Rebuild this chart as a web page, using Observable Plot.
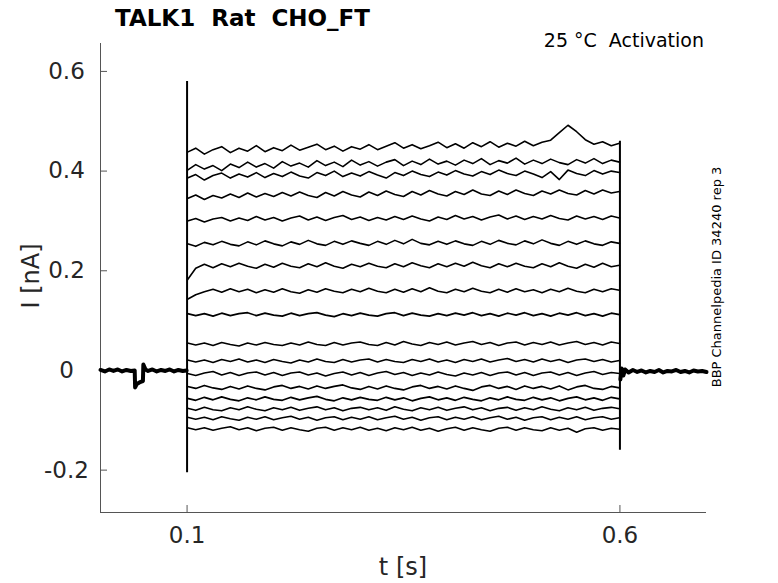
<!DOCTYPE html>
<html>
<head>
<meta charset="utf-8">
<script src="https://cdn.jsdelivr.net/npm/d3@7"></script>
<script src="https://cdn.jsdelivr.net/npm/@observablehq/plot@0.6"></script>
<style>
  html, body { margin: 0; padding: 0; background: #fff; }
</style>
</head>
<body>
<div id="chart"></div>
<script>
// ---- axis / text data ----
const xDomain = [0, 0.7];
const yDomain = [-0.285, 0.656];
const xTicks = [0.1, 0.6];
const xTickLabels = ["0.1", "0.6"];
const yTicks = [-0.2, 0, 0.2, 0.4, 0.6];
const yTickLabels = ["-0.2", "0", "0.2", "0.4", "0.6"];
const titleText = "TALK1  Rat  CHO_FT";
const conditionText = "25 \u00B0C  Activation";
const sideText = "BBP Channelpedia ID 34240 rep 3";
const xLabel = "t [s]";
const yLabel = "I [nA]";

// ---- sample times of the step traces (s) ----
const tTrace = [0.1005,0.11,0.12,0.13,0.14,0.15,0.16,0.17,0.18,0.19,
  0.20,0.21,0.22,0.23,0.24,0.25,0.26,0.27,0.28,0.29,
  0.30,0.31,0.32,0.33,0.34,0.35,0.36,0.37,0.38,0.39,
  0.40,0.41,0.42,0.43,0.44,0.45,0.46,0.47,0.48,0.49,
  0.50,0.51,0.52,0.53,0.54,0.55,0.56,0.57,0.58,0.59,0.5995];

// ---- current traces during the step (nA) ----
const trace1 = [0.438,0.446,0.434,0.443,0.449,0.437,0.446,0.440,0.451,0.439,
  0.447,0.441,0.452,0.442,0.448,0.454,0.443,0.450,0.440,0.449,
  0.444,0.453,0.443,0.450,0.457,0.446,0.453,0.445,0.451,0.458,
  0.447,0.455,0.446,0.457,0.449,0.459,0.448,0.456,0.450,0.460,
  0.451,0.458,0.462,0.477,0.492,0.479,0.463,0.454,0.459,0.451,0.456];
const trace2 = [0.402,0.413,0.404,0.411,0.401,0.414,0.407,0.418,0.408,0.415,
  0.406,0.419,0.410,0.416,0.408,0.421,0.411,0.418,0.409,0.422,
  0.412,0.419,0.410,0.418,0.423,0.411,0.420,0.413,0.424,0.414,
  0.420,0.412,0.422,0.415,0.425,0.413,0.421,0.416,0.426,0.414,
  0.422,0.415,0.424,0.417,0.413,0.423,0.416,0.425,0.415,0.422,0.418];
const trace3 = [0.386,0.393,0.382,0.391,0.396,0.386,0.394,0.388,0.397,0.387,
  0.395,0.389,0.398,0.390,0.386,0.397,0.391,0.400,0.389,0.396,
  0.390,0.399,0.392,0.386,0.397,0.391,0.400,0.393,0.389,0.398,
  0.392,0.401,0.394,0.390,0.399,0.393,0.402,0.395,0.391,0.400,
  0.394,0.387,0.399,0.383,0.402,0.395,0.391,0.401,0.394,0.400,0.397];
const trace4 = [0.345,0.352,0.343,0.351,0.346,0.354,0.347,0.356,0.348,0.355,
  0.349,0.357,0.350,0.358,0.351,0.347,0.357,0.350,0.359,0.352,
  0.348,0.358,0.351,0.360,0.353,0.349,0.359,0.352,0.361,0.354,
  0.350,0.359,0.353,0.362,0.354,0.351,0.360,0.353,0.362,0.355,
  0.351,0.360,0.354,0.362,0.355,0.352,0.361,0.354,0.362,0.356,0.359];
const trace5 = [0.300,0.305,0.298,0.304,0.307,0.300,0.306,0.301,0.309,0.302,
  0.307,0.300,0.306,0.310,0.302,0.308,0.301,0.307,0.311,0.303,
  0.308,0.301,0.307,0.302,0.309,0.303,0.310,0.304,0.300,0.308,
  0.303,0.311,0.304,0.309,0.302,0.308,0.312,0.304,0.310,0.303,
  0.309,0.304,0.311,0.305,0.302,0.310,0.304,0.309,0.303,0.310,0.306];
const trace6 = [0.254,0.249,0.257,0.252,0.259,0.253,0.250,0.258,0.252,0.260,
  0.254,0.250,0.258,0.253,0.261,0.254,0.251,0.259,0.253,0.260,
  0.255,0.251,0.259,0.253,0.261,0.254,0.263,0.255,0.252,0.259,
  0.253,0.260,0.254,0.251,0.259,0.253,0.261,0.255,0.252,0.260,
  0.254,0.262,0.255,0.251,0.259,0.253,0.260,0.254,0.251,0.258,0.255];
const trace7 = [0.182,0.205,0.213,0.206,0.214,0.208,0.215,0.209,0.205,0.213,
  0.207,0.215,0.209,0.206,0.214,0.208,0.216,0.209,0.205,0.213,
  0.208,0.215,0.209,0.206,0.214,0.208,0.216,0.210,0.206,0.214,
  0.208,0.215,0.209,0.217,0.210,0.206,0.214,0.208,0.215,0.209,
  0.206,0.214,0.208,0.216,0.209,0.205,0.213,0.207,0.215,0.208,0.211];
const trace8 = [0.143,0.152,0.158,0.163,0.157,0.164,0.158,0.163,0.156,0.162,
  0.157,0.164,0.158,0.155,0.162,0.157,0.164,0.159,0.156,0.163,
  0.158,0.165,0.159,0.156,0.163,0.157,0.164,0.158,0.166,0.159,
  0.156,0.163,0.158,0.165,0.159,0.156,0.163,0.157,0.164,0.158,
  0.162,0.156,0.163,0.158,0.165,0.159,0.156,0.163,0.158,0.164,0.161];
const trace9 = [0.114,0.110,0.114,0.109,0.115,0.110,0.114,0.116,0.110,0.115,
  0.111,0.109,0.115,0.110,0.114,0.116,0.111,0.108,0.114,0.110,
  0.115,0.111,0.109,0.114,0.116,0.110,0.115,0.111,0.109,0.114,
  0.110,0.115,0.111,0.116,0.110,0.114,0.109,0.115,0.111,0.116,
  0.110,0.114,0.109,0.115,0.111,0.116,0.110,0.114,0.109,0.115,0.112];
const trace10 = [0.055,0.051,0.055,0.050,0.056,0.052,0.049,0.055,0.051,0.056,
  0.052,0.050,0.055,0.051,0.057,0.052,0.050,0.056,0.051,0.055,
  0.057,0.052,0.050,0.056,0.051,0.058,0.053,0.050,0.056,0.052,
  0.057,0.051,0.055,0.058,0.052,0.056,0.050,0.055,0.057,0.051,
  0.056,0.052,0.057,0.051,0.055,0.058,0.052,0.056,0.051,0.057,0.054];
const trace11 = [0.021,0.017,0.021,0.016,0.022,0.018,0.023,0.017,0.021,0.016,
  0.022,0.018,0.015,0.021,0.017,0.023,0.018,0.016,0.022,0.017,
  0.021,0.023,0.017,0.022,0.018,0.016,0.022,0.018,0.023,0.017,
  0.021,0.016,0.022,0.018,0.023,0.017,0.021,0.024,0.018,0.022,
  0.017,0.023,0.018,0.022,0.016,0.021,0.023,0.018,0.022,0.017,0.020];
const trace12 = [-0.006,-0.010,-0.005,-0.002,-0.009,-0.004,-0.010,-0.005,-0.003,-0.009,
  -0.004,-0.010,-0.005,-0.003,-0.009,-0.005,-0.011,-0.006,-0.003,-0.009,
  -0.004,-0.010,-0.005,-0.002,-0.008,-0.004,-0.010,-0.005,-0.009,-0.003,
  -0.008,-0.011,-0.005,-0.009,-0.004,-0.010,-0.005,-0.003,-0.009,-0.004,
  -0.010,-0.005,-0.003,-0.009,-0.004,-0.010,-0.005,-0.002,-0.008,-0.004,-0.006];
const trace13 = [-0.032,-0.036,-0.030,-0.035,-0.038,-0.032,-0.037,-0.031,-0.036,-0.039,
  -0.033,-0.030,-0.036,-0.032,-0.037,-0.031,-0.036,-0.032,-0.029,-0.035,
  -0.038,-0.032,-0.037,-0.031,-0.036,-0.039,-0.033,-0.030,-0.036,-0.032,
  -0.037,-0.031,-0.036,-0.040,-0.033,-0.030,-0.036,-0.032,-0.038,-0.031,
  -0.036,-0.032,-0.037,-0.031,-0.039,-0.033,-0.030,-0.036,-0.038,-0.032,-0.035];
const trace14 = [-0.056,-0.060,-0.054,-0.059,-0.053,-0.058,-0.061,-0.055,-0.059,-0.053,
  -0.058,-0.060,-0.054,-0.059,-0.055,-0.052,-0.058,-0.061,-0.055,-0.059,
  -0.054,-0.058,-0.060,-0.054,-0.059,-0.055,-0.061,-0.056,-0.053,-0.059,
  -0.055,-0.060,-0.054,-0.058,-0.061,-0.055,-0.059,-0.053,-0.058,-0.060,
  -0.054,-0.059,-0.055,-0.061,-0.056,-0.053,-0.059,-0.055,-0.060,-0.054,-0.057];
const trace15 = [-0.076,-0.080,-0.074,-0.079,-0.081,-0.075,-0.079,-0.073,-0.078,-0.081,
  -0.075,-0.079,-0.074,-0.080,-0.076,-0.073,-0.079,-0.075,-0.081,-0.076,
  -0.074,-0.079,-0.075,-0.080,-0.073,-0.078,-0.081,-0.075,-0.079,-0.074,
  -0.080,-0.076,-0.073,-0.079,-0.075,-0.081,-0.076,-0.074,-0.080,-0.075,
  -0.079,-0.073,-0.078,-0.081,-0.075,-0.079,-0.074,-0.080,-0.076,-0.074,-0.077];
const trace16 = [-0.094,-0.098,-0.094,-0.099,-0.093,-0.097,-0.100,-0.094,-0.098,-0.093,
  -0.099,-0.095,-0.092,-0.098,-0.094,-0.100,-0.095,-0.093,-0.099,-0.094,
  -0.098,-0.093,-0.099,-0.095,-0.092,-0.098,-0.094,-0.100,-0.095,-0.093,
  -0.099,-0.094,-0.098,-0.093,-0.099,-0.095,-0.092,-0.098,-0.094,-0.100,
  -0.095,-0.093,-0.099,-0.094,-0.098,-0.093,-0.099,-0.095,-0.093,-0.098,-0.095];
const trace17 = [-0.115,-0.119,-0.115,-0.120,-0.116,-0.113,-0.119,-0.115,-0.121,-0.116,
  -0.114,-0.120,-0.115,-0.119,-0.122,-0.116,-0.114,-0.120,-0.115,-0.119,
  -0.114,-0.120,-0.116,-0.121,-0.115,-0.119,-0.114,-0.120,-0.116,-0.122,
  -0.117,-0.114,-0.120,-0.115,-0.119,-0.122,-0.116,-0.114,-0.120,-0.115,
  -0.119,-0.121,-0.115,-0.120,-0.116,-0.124,-0.117,-0.115,-0.120,-0.116,-0.118];

// ---- holding baseline before and after the step ----
const preT = [0,0.005,0.01,0.015,0.02,0.025,0.03,0.035,0.0395,0.0400,0.042,0.045,0.048,0.0490,0.0495,0.052,0.055,0.06,0.065,0.07,0.075,0.08,0.085,0.09,0.095,0.0995];
const preI = [0.001,-0.002,0.002,-0.001,0.002,-0.002,0.001,-0.001,0.000,-0.034,-0.027,-0.024,-0.022,-0.021,0.012,0.002,-0.001,0.002,-0.002,0.001,-0.001,0.002,-0.002,0.001,-0.001,0.000];
const postT = [0.6005,0.602,0.604,0.606,0.61,0.615,0.62,0.625,0.63,0.635,0.64,0.645,0.65,0.655,0.66,0.665,0.67,0.675,0.68,0.685,0.69,0.695,0.7];
const postI = [-0.018,0.004,-0.010,0.002,-0.004,0.001,-0.003,0.000,-0.004,-0.001,-0.003,0.001,-0.004,-0.001,-0.002,0.001,-0.003,-0.001,-0.004,0.000,-0.002,-0.001,-0.003];

// ---- capacitive transients at step on/off ----
const stepT = [0.1, 0.6];
const spikeLo = [-0.205, -0.16];
const spikeHi = [0.58, 0.46];

// ---- build tables ----
const traces = [trace1,trace2,trace3,trace4,trace5,trace6,trace7,trace8,trace9,
  trace10,trace11,trace12,trace13,trace14,trace15,trace16,trace17];
const stepRows = [];
traces.forEach((vals, k) => vals.forEach((v, i) => stepRows.push({trace: k, t: tTrace[i], I: v})));
const baseRows = [];
preT.forEach((t, i) => baseRows.push({seg: "pre", t, I: preI[i]}));
postT.forEach((t, i) => baseRows.push({seg: "post", t, I: postI[i]}));
const spikeRows = stepT.map((t, i) => ({t, lo: spikeLo[i], hi: spikeHi[i]}));

const ink = "#262626";
const fontSize = 23;

const svg = Plot.plot({
  width: 778,
  height: 583,
  marginLeft: 100,
  marginRight: 72,
  marginTop: 43,
  marginBottom: 71,
  style: {fontFamily: "DejaVu Sans", background: "#fff", color: ink, overflow: "visible"},
  x: {domain: xDomain, label: null},
  y: {domain: yDomain, label: null},
  marks: [
    Plot.ruleX([xDomain[0]], {stroke: "#555", strokeWidth: 1}),
    Plot.ruleY([yDomain[0]], {stroke: "#555", strokeWidth: 1}),
    Plot.axisY(yTicks, {tickSize: -7, fill: "none", stroke: "#555", label: null}),
    Plot.axisY(yTicks, {tickSize: 0, tickPadding: 34, textAnchor: "middle", fontSize,
      fill: ink, label: null, tickFormat: d => yTickLabels[yTicks.indexOf(d)]}),
    Plot.axisX(xTicks, {tickSize: -7, fill: "none", stroke: "#555", label: null}),
    Plot.axisX(xTicks, {tickSize: 0, tickPadding: 14, fontSize, fill: ink, label: null,
      tickFormat: d => xTickLabels[xTicks.indexOf(d)]}),
    Plot.line(baseRows, {x: "t", y: "I", z: "seg", stroke: "black", strokeWidth: 4}),
    Plot.line(stepRows, {x: "t", y: "I", z: "trace", stroke: "black", strokeWidth: 1.6}),
    Plot.ruleX(spikeRows, {x: "t", y1: "lo", y2: "hi", stroke: "black", strokeWidth: 2})
  ]
});

const s = d3.select(svg);
s.append("text").attr("x", 115).attr("y", 26).attr("text-anchor", "start")
  .attr("font-size", 23).attr("font-weight", "bold").attr("fill", "#000")
  .style("white-space", "pre").text(titleText);
s.append("text").attr("x", 704).attr("y", 47).attr("text-anchor", "end")
  .attr("font-size", 19).attr("fill", "#000")
  .style("white-space", "pre").text(conditionText);
s.append("text").attr("transform", "translate(721,277) rotate(-90)").attr("text-anchor", "middle")
  .attr("font-size", 13).attr("fill", "#000").text(sideText);
s.append("text").attr("x", 403).attr("y", 575).attr("text-anchor", "middle")
  .attr("font-size", 24).attr("fill", ink).text(xLabel);
s.append("text").attr("transform", "translate(39,276) rotate(-90)").attr("text-anchor", "middle")
  .attr("font-size", 24).attr("fill", ink).text(yLabel);

document.getElementById("chart").appendChild(svg);
</script>
</body>
</html>
